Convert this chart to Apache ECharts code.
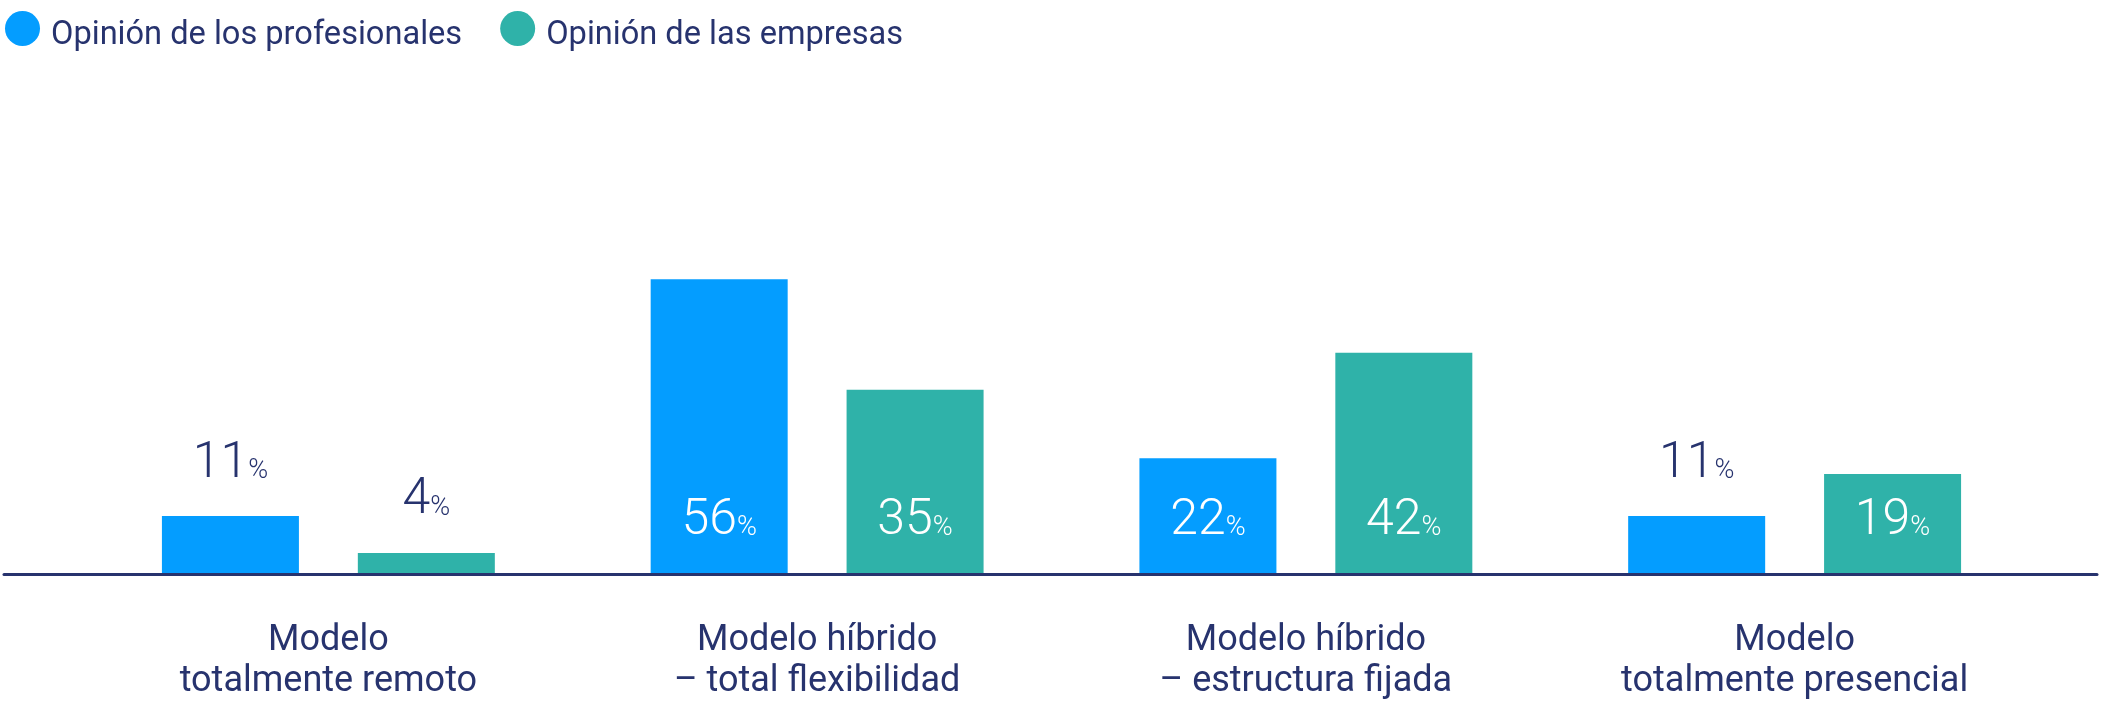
<!DOCTYPE html>
<html>
<head>
<meta charset="utf-8">
<style>
  html, body { margin: 0; padding: 0; background: #ffffff; }
  #chart { width: 2103px; height: 705px; }
</style>
<script src="https://cdn.jsdelivr.net/npm/echarts@6/dist/echarts.min.js"></script>
</head>
<body>
<div id="chart"></div>
<script>
// Work-model preferences, percentage of respondents
const categories = [
  'Modelo\ntotalmente remoto',
  'Modelo híbrido\n– total flexibilidad',
  'Modelo híbrido\n– estructura fijada',
  'Modelo\ntotalmente presencial'
];
const seriesNames = ['Opinión de los profesionales', 'Opinión de las empresas'];
const profesionales = [11, 56, 22, 11];
const empresas = [4, 35, 42, 19];

const NAVY = '#27336e';
const BLUE = '#049dff';
const TEAL = '#2fb2a9';
const FONT = 'Roboto, "Noto Sans", sans-serif';

// Short bars carry their value above; taller bars carry it inside, near the base
const SMALL_LIMIT = 15;

const richFor = (color) => ({
  num: { fontFamily: FONT, fontWeight: 300, fontSize: 50, lineHeight: 50, color: color },
  pct: { fontFamily: FONT, fontWeight: 300, fontSize: 27, lineHeight: 27, color: color,
         verticalAlign: 'bottom', padding: [0, 0, 4, 0] }
});

function buildData(values) {
  return values.map(v => {
    if (v < SMALL_LIMIT) {
      return {
        value: v,
        label: { position: 'top', distance: 27, rich: richFor(NAVY) }
      };
    }
    return { value: v };
  });
}

function barSeries(name, values, color) {
  return {
    name: name,
    type: 'bar',
    xAxisIndex: 0,
    yAxisIndex: 0,
    barWidth: 137,
    barGap: '43%',
    itemStyle: { color: color },
    label: {
      show: true,
      position: 'insideBottom',
      distance: 28,
      formatter: p => '{num|' + p.value + '}{pct|%}',
      rich: richFor('#ffffff')
    },
    data: buildData(values)
  };
}

const chart = echarts.init(document.getElementById('chart'), null, { renderer: 'canvas' });

chart.setOption({
  animation: false,
  backgroundColor: '#ffffff',
  legend: {
    left: 5,
    top: 5,
    padding: 0,
    itemWidth: 35,
    itemHeight: 35,
    itemGap: 38,
    icon: 'circle',
    data: seriesNames,
    formatter: name => '{t|' + name + '}',
    textStyle: {
      fontFamily: FONT,
      fontSize: 32.6,
      color: NAVY,
      rich: {
        t: {
          fontFamily: FONT,
          fontSize: 32.6,
          lineHeight: 33,
          color: NAVY,
          padding: [14, 0, 0, 6]
        }
      }
    }
  },
  grid: [
    { left: 84, right: 64, top: 47.5, bottom: 131 },
    { left: 4, right: 6, top: 47.5, bottom: 131 }
  ],
  xAxis: [
    {
      type: 'category',
      gridIndex: 0,
      data: categories,
      axisLine: { show: false },
      axisTick: { show: false },
      axisLabel: {
        margin: 46,
        fontFamily: FONT,
        fontSize: 36,
        lineHeight: 41,
        color: NAVY,
        interval: 0
      }
    },
    {
      // baseline rule running across the full width
      type: 'value',
      gridIndex: 1,
      min: 0,
      max: 1,
      z: 10,
      axisLine: { show: true, lineStyle: { color: NAVY, width: 3 } },
      axisTick: { show: false },
      axisLabel: { show: false },
      splitLine: { show: false }
    }
  ],
  yAxis: [
    { type: 'value', gridIndex: 0, min: 0, max: 100, show: false },
    { type: 'value', gridIndex: 1, min: 0, max: 1, show: false }
  ],
  series: [
    barSeries(seriesNames[0], profesionales, BLUE),
    barSeries(seriesNames[1], empresas, TEAL)
  ]
});
</script>
</body>
</html>
